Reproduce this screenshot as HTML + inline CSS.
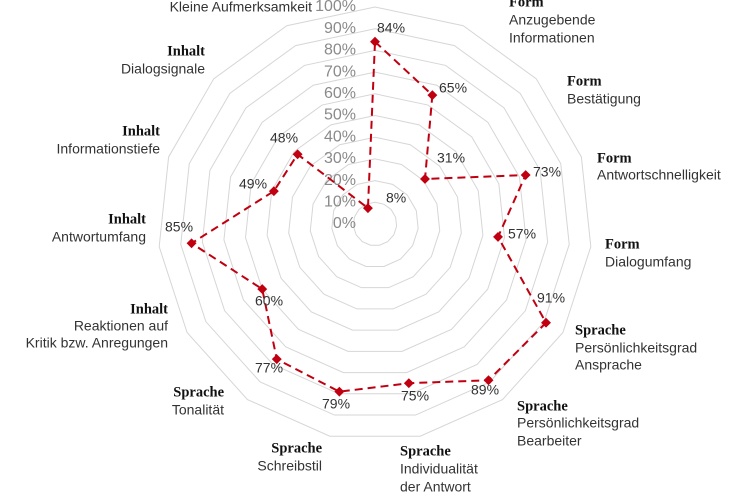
<!DOCTYPE html>
<html><head><meta charset="utf-8"><style>
html,body{margin:0;padding:0;background:#fff;}
svg{display:block;font-family:"Liberation Sans",sans-serif;}
.t{fill:#8a8a8a;font-size:16px;text-anchor:end;}
.v{fill:#333;font-size:14px;}
.c{fill:#333;font-size:14px;}
.b{font-family:"Liberation Serif",serif;font-weight:bold;fill:#111;font-size:14.5px;}
</style></head><body>
<svg id="s" width="750" height="500" viewBox="0 0 750 500" xmlns="http://www.w3.org/2000/svg">
<g id="grid" fill="none" stroke="#d6d6d6" stroke-width="1"></g>
<g id="ticks"></g>
<polygon id="data" fill="none" stroke="#c00010" stroke-width="2" stroke-dasharray="8,5"></polygon>
<g id="pts" fill="#c00010"></g>
<g dominant-baseline="middle">
<text class="v" x="377" y="29">84%</text>
<text class="v" x="439" y="89">65%</text>
<text class="v" x="437" y="159">31%</text>
<text class="v" x="533" y="173">73%</text>
<text class="v" x="508" y="235">57%</text>
<text class="v" x="537" y="299">91%</text>
<text class="v" x="471" y="391">89%</text>
<text class="v" x="401" y="397">75%</text>
<text class="v" x="322" y="405">79%</text>
<text class="v" x="255" y="369">77%</text>
<text class="v" x="255" y="302">60%</text>
<text class="v" x="165" y="228">85%</text>
<text class="v" x="239" y="185">49%</text>
<text class="v" x="270" y="139">48%</text>
<text class="v" x="386" y="199">8%</text>

<text class="b" x="509" y="3">Form</text>
<text class="c" x="509" y="21">Anzugebende</text>
<text class="c" x="509" y="39">Informationen</text>
<text class="b" x="567" y="82">Form</text>
<text class="c" x="567" y="100">Bestätigung</text>
<text class="b" x="597" y="159">Form</text>
<text class="c" x="597" y="176">Antwortschnelligkeit</text>
<text class="b" x="605" y="245">Form</text>
<text class="c" x="605" y="263">Dialogumfang</text>
<text class="b" x="575" y="331">Sprache</text>
<text class="c" x="575" y="349">Persönlichkeitsgrad</text>
<text class="c" x="575" y="366">Ansprache</text>
<text class="b" x="517" y="407">Sprache</text>
<text class="c" x="517" y="424">Persönlichkeitsgrad</text>
<text class="c" x="517" y="442">Bearbeiter</text>
<text class="b" x="400" y="452">Sprache</text>
<text class="c" x="400" y="470">Individualität</text>
<text class="c" x="400" y="488">der Antwort</text>
<g text-anchor="end">
<text class="b" x="322" y="449">Sprache</text>
<text class="c" x="322" y="467">Schreibstil</text>
<text class="b" x="224" y="393">Sprache</text>
<text class="c" x="224" y="411">Tonalität</text>
<text class="b" x="168" y="310">Inhalt</text>
<text class="c" x="168" y="327">Reaktionen auf</text>
<text class="c" x="168" y="344">Kritik bzw. Anregungen</text>
<text class="b" x="146" y="220">Inhalt</text>
<text class="c" x="146" y="238">Antwortumfang</text>
<text class="b" x="160" y="132">Inhalt</text>
<text class="c" x="160" y="150">Informationstiefe</text>
<text class="b" x="205" y="52">Inhalt</text>
<text class="c" x="205" y="70">Dialogsignale</text>
<text class="c" x="312" y="8">Kleine Aufmerksamkeit</text>
</g>
</g>
</svg>
<script>
var cx=375,cy=224,R=217,N=15,NS="http://www.w3.org/2000/svg";
function pt(i,r){var a=i*2*Math.PI/N;return [cx+r*Math.sin(a),cy-r*Math.cos(a)];}
var g=document.getElementById("grid");
for(var k=1;k<=10;k++){var p=[];for(var i=0;i<N;i++){p.push(pt(i,R*k/10).join(","));}
var e=document.createElementNS(NS,"polygon");e.setAttribute("points",p.join(" "));g.appendChild(e);}
var t=document.getElementById("ticks");
for(var k=0;k<=10;k++){var e=document.createElementNS(NS,"text");e.setAttribute("class","t");
e.setAttribute("x",356);e.setAttribute("y",cy-R*k/10);e.setAttribute("dominant-baseline","middle");
e.textContent=(k*10)+"%";t.appendChild(e);}
var v=[84,65,31,73,57,91,89,75,79,77,60,85,49,48,8],p=[],pg=document.getElementById("pts");
for(var i=0;i<N;i++){var q=pt(i,R*v[i]/100);p.push(q.join(","));
var d=document.createElementNS(NS,"rect");d.setAttribute("x",q[0]-3.5);d.setAttribute("y",q[1]-3.5);
d.setAttribute("width",7);d.setAttribute("height",7);d.setAttribute("transform","rotate(45 "+q[0]+" "+q[1]+")");pg.appendChild(d);}
document.getElementById("data").setAttribute("points",p.join(" "));
</script>
</body></html>
